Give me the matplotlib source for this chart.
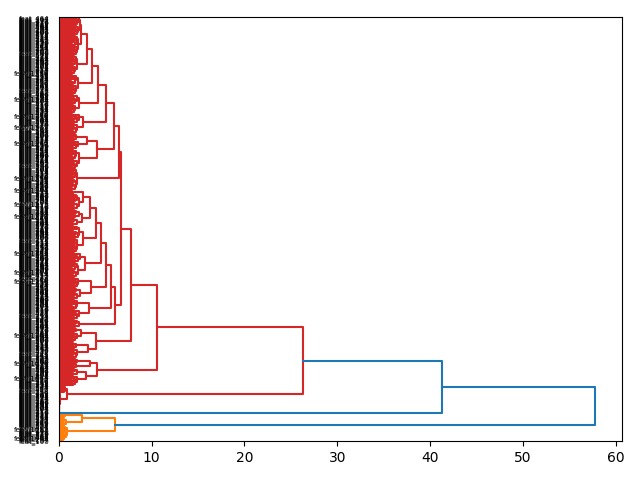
import matplotlib
matplotlib.use("Agg")
import matplotlib.pyplot as plt

# colours and cut height (scipy style: 0.7 * top merge)
top_merge = 57.8
cut = 0.7 * top_merge
above_color = "#1f77b4"
cluster_colors = ["#ff7f0e", "#d62728"]

# leaf groups: merge heights, used pairwise from the leaves up
# (a group with k values holds k + 1 leaves)
o1 = [0.1, 0.2, 0.2, 0.3, 0.4, 0.5, 0.6, 0.8]
o2 = [0.2, 0.3, 0.5, 0.6, 0.7]
o3 = [0.2, 0.3, 0.4, 0.5, 0.6, 0.8]
o4 = [0.3, 0.4, 0.6, 0.7]
solo = []
r0a = [0.0, 0.0, 0.0, 0.0, 0.0, 0.0, 0.0, 0.0, 0.0,
       0.0, 0.0, 0.0, 0.0, 0.0, 0.0, 0.02, 0.05, 0.1]
r0b = [0.2, 0.3, 0.4, 0.5, 0.6, 0.7]

a1 = [1.2, 1.3, 1.3, 1.4, 1.5, 1.6, 1.7, 1.9]
a2 = [1.2, 1.3, 1.4, 1.5, 1.7, 1.9]
a3 = [1.3, 1.4, 1.5, 1.6, 1.8]
a4 = [1.5, 1.7, 2.0]
b1 = [1.1, 1.2, 1.3, 1.3, 1.4, 1.5, 1.6, 1.8, 2.0]
b2 = [1.3, 1.4, 1.5, 1.6, 1.8]
b3 = [1.2, 1.3, 1.4, 1.4, 1.5, 1.6, 1.7, 1.9]
b4 = [1.3, 1.5, 1.6, 1.8]

c1 = [1.2, 1.3, 1.4, 1.5, 1.7, 1.9, 2.2]
c2 = [1.1, 1.2, 1.3, 1.4, 1.5, 1.6, 1.8, 2.0, 2.2]
c3 = [1.2, 1.3, 1.4, 1.5, 1.6, 1.7, 1.8, 2.0]
c4 = [1.1, 1.2, 1.3, 1.3, 1.4, 1.5, 1.6, 1.7, 1.8, 2.0, 2.3]
c5 = [1.2, 1.3, 1.4, 1.5, 1.6, 1.7, 1.8, 1.9, 2.1]
c6 = [1.1, 1.1, 1.2, 1.3, 1.3, 1.4, 1.5, 1.5, 1.6, 1.7, 1.8, 2.0, 2.1]
c7 = [1.3, 1.4, 1.5, 1.5, 1.6, 1.7, 1.9, 2.1, 2.3]
c8 = [1.1, 1.2, 1.2, 1.3, 1.4, 1.4, 1.5, 1.6, 1.7, 1.7, 1.8, 1.9, 2.0]
c9 = [1.2, 1.3, 1.3, 1.4, 1.5, 1.6, 1.7, 1.8, 1.9, 2.1, 2.2]
c10 = [1.1, 1.1, 1.2, 1.2, 1.3, 1.3, 1.4, 1.5, 1.5, 1.6, 1.7, 1.8, 1.9,
       2.2, 2.5]
c11 = [1.1, 1.2, 1.2, 1.3, 1.3, 1.4, 1.4, 1.5, 1.5, 1.6, 1.6, 1.7, 1.8,
       1.9, 2.0, 2.2, 2.6]

d1 = [1.1, 1.2, 1.2, 1.3, 1.3, 1.4, 1.4, 1.5, 1.6, 1.7, 1.8]
d2 = [1.2, 1.3, 1.4, 1.4, 1.5, 1.6, 1.7, 1.8]

e1 = [1.1, 1.2, 1.3, 1.4, 1.5, 1.5, 1.6, 1.7, 1.9]
e2 = [1.2, 1.3, 1.4, 1.5, 1.5, 1.6, 1.7, 1.8]
e3 = [1.1, 1.2, 1.3, 1.4, 1.5, 1.7, 1.8, 2.1]
e4 = [1.3, 1.4, 1.5, 1.6, 1.7, 1.8]
f1 = [1.1, 1.2, 1.3, 1.3, 1.4, 1.5, 1.6, 1.8, 2.0]
f2 = [1.2, 1.3, 1.4, 1.5, 1.6, 1.7, 1.9, 2.2]
g1 = [1.1, 1.2, 1.3, 1.4, 1.4, 1.5, 1.6, 1.7]
g2 = [1.1, 1.2, 1.3, 1.3, 1.4, 1.5, 1.6, 1.7, 1.9]
h1 = [1.2, 1.3, 1.3, 1.4, 1.4, 1.5, 1.6, 1.7, 1.8]
h2 = [1.1, 1.2, 1.3, 1.4, 1.5, 1.6, 1.7, 1.8]
k1 = [1.1, 1.2, 1.3, 1.3, 1.4, 1.5, 1.6, 1.7]
k2 = [1.1, 1.2, 1.3, 1.4, 1.4, 1.5, 1.6, 1.7, 1.8]
m1 = [1.2, 1.3, 1.3, 1.4, 1.5, 1.6, 1.7, 1.8, 2.0]
m2 = [1.3, 1.4, 1.5, 1.6, 1.7, 1.8, 1.9, 2.0]
m3 = [1.2, 1.3, 1.4, 1.5, 1.6, 1.7, 1.8, 1.9, 2.1]
m4 = [1.3, 1.4, 1.5, 1.6, 1.8, 1.9, 2.0, 2.2]

# merges: (height, lower child, upper child)
orange = (6.0, (0.9, o1, o2), (2.5, o3, o4))
small_red = (0.9, r0a, r0b)
s1 = (4.1, (2.9, a1, a2), (3.3, a3, a4))
s2 = (4.0, (3.1, b1, b2), (2.4, b3, b4))
s3 = (6.1, c1, (5.6, (3.2, c2, c3),
                (5.05, (3.5, c4, c5),
                 (4.5, (2.8, c6, c7),
                  (4.0, (2.6, c8, c9), (3.4, c10, c11))))))
g178 = (1.9, d1, d2)
g158 = (4.1, (2.2, e1, e2), (3.0, e3, e4))
top = (5.9, g158,
       (5.1, (2.6, f1, f2),
        (4.2, (2.2, g1, g2),
         (3.6, (2.1, h1, h2),
          (3.0, (2.0, k1, k2),
           (2.4, (2.1, m1, m2), (2.3, m3, m4)))))))
big_red = (10.6, s1, (7.8, s2, (6.7, s3, (6.5, g178, top))))
tree = (top_merge, orange, (41.3, solo, (26.3, small_red, big_red)))

# leaves whose names are one digit longer
long_rows = [3, 12, 61, 76, 103, 156, 164, 183, 219, 231, 244, 256,
             290, 305, 316, 333, 358]

leaf_y = []
used = [0]


def new_leaf():
    leaf_y.append(5 + 10 * len(leaf_y))
    return leaf_y[-1]


def next_color():
    c = cluster_colors[used[0] % len(cluster_colors)]
    used[0] += 1
    return c


def link(ax, a, b, m, color):
    ax.plot([a[1], m, m, b[1]], [a[0], a[0], b[0], b[0]], color=color, lw=1.5)
    return ((a[0] + b[0]) / 2, m)


def draw(ax, node, color=None):
    if isinstance(node, list):
        if node and color is None:
            color = next_color()
        nodes = [(new_leaf(), 0.0) for _ in range(len(node) + 1)]
        hs = iter(node)
        while len(nodes) > 1:
            nxt = []
            for j in range(0, len(nodes) - 1, 2):
                nxt.append(link(ax, nodes[j], nodes[j + 1], next(hs), color))
            if len(nodes) % 2:
                nxt.append(nodes[-1])
            nodes = nxt
        return nodes[0]
    m, lower, upper = node
    if color is None and m <= cut:
        color = next_color()
    a = draw(ax, lower, color)
    b = draw(ax, upper, color)
    return link(ax, a, b, m, color if color else above_color)


fig, ax = plt.subplots(figsize=(6.4, 4.8), dpi=100)
draw(ax, tree)
n = len(leaf_y)
names = []
for i in range(n):
    if i in long_rows:
        names.append("feat_%d" % (1000 + i))
    else:
        names.append("feat_%d" % (100 + (i * 97) % 900))

ax.set_xlim(0, top_merge * 1.05)
ax.set_ylim(0, 10 * n)
ax.set_yticks(leaf_y)
ax.set_yticklabels(names, fontsize=5)
for t in ax.get_yticklines():
    t.set_visible(False)

fig.subplots_adjust(left=0.092, right=0.972, top=0.965, bottom=0.081)
fig.savefig("out.png")
